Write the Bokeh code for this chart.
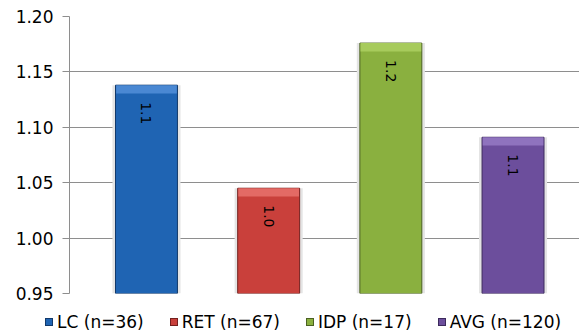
import math
from bokeh.plotting import figure
from bokeh.layouts import column
from bokeh.models import (ColumnDataSource, Range1d, FixedTicker, NumeralTickFormatter, Div)
from bokeh.core.properties import value
from bokeh.embed import file_html
from bokeh.resources import INLINE

# ---- data ----
categories = ["LC (n=36)", "RET (n=67)", "IDP (n=17)", "AVG (n=120)"]
values = [1.138, 1.045, 1.176, 1.091]
y_ticks = [0.95, 1.00, 1.05, 1.10, 1.15, 1.20]

# ---- styles ----
fill_colors = ["#1F64B3", "#C9403B", "#8AB03F", "#6C4E9C"]
line_colors = ["#12396A", "#74201E", "#4B6122", "#3C2A5C"]
bevel_colors = ["#4A88D3", "#E36A65", "#A7CB5C", "#8F73BE"]
FONT = "DejaVu Sans"
BAR_W = 0.507
BEVEL = 0.0075

xs = list(range(len(categories)))
src = ColumnDataSource(dict(
    x=xs,
    top=values,
    bevel_bottom=[v - BEVEL for v in values],
    label=[f"{v:.1f}" for v in values],
    cat=categories,
    fill=fill_colors,
    line=line_colors,
    bevel=bevel_colors,
))

p = figure(width=579, height=302, output_backend="svg", toolbar_location=None,
           x_range=Range1d(-0.630, 3.544), y_range=Range1d(0.95, 1.20),
           min_border_left=69, min_border_right=0, min_border_top=16,
           min_border_bottom=9)
p.outline_line_color = None
p.background_fill_color = "white"
p.border_fill_color = "white"

p.xaxis.visible = False
p.xgrid.visible = False

p.ygrid.ticker = FixedTicker(ticks=y_ticks)
p.ygrid.grid_line_color = "#8E8E8E"
p.ygrid.grid_line_width = 1

yax = p.yaxis[0]
yax.ticker = FixedTicker(ticks=y_ticks)
yax.formatter = NumeralTickFormatter(format="0.00")
yax.axis_line_color = "#8E8E8E"
yax.major_tick_line_color = "#8E8E8E"
yax.major_tick_out = 7
yax.major_tick_in = 0
yax.minor_tick_line_color = None
yax.major_label_standoff = 9
yax.major_label_text_font = FONT
yax.major_label_text_font_size = "17px"
yax.major_label_text_color = "#000000"

# soft shadow
p.vbar(x="x", top="top", bottom=0.95, width=BAR_W + 0.05, source=src,
       fill_color="#E4E4E4", line_color=None)
# bars
bars = p.vbar(x="x", top="top", bottom=0.95, width=BAR_W, source=src,
              fill_color="fill", line_color="line", line_width=1)
# bevel highlight on top
p.vbar(x="x", top="top", bottom="bevel_bottom", width=BAR_W - 0.01, source=src,
       fill_color="bevel", line_color=None)

# rotated value labels
p.text(x="x", y="top", text="label", source=src, angle=-math.pi / 2,
       text_align="left", text_baseline="middle", y_offset=17,
       text_font=value(FONT), text_font_size="14px", text_color="#000000")

# ---- legend row below the plot ----
item_html = "".join(
    f'<span style="display:inline-flex;align-items:center;margin-right:26px;">'
    f'<span style="display:inline-block;width:8px;height:8px;background:{fc};'
    f'border:1px solid {lc};margin-right:4px;"></span>{cat}</span>'
    for cat, fc, lc in zip(categories, fill_colors, line_colors)
)
legend_div = Div(
    text=(f'<div style="display:flex;align-items:center;box-sizing:border-box;'
          f'height:33px;padding-top:7px;padding-left:45px;white-space:nowrap;'
          f'font-family:\'{FONT}\';font-size:17px;color:#000;">{item_html}</div>'),
    width=579, height=33, margin=0,
)

layout = column(p, legend_div, spacing=0)
open("out.html", "w").write(file_html(layout, INLINE))
